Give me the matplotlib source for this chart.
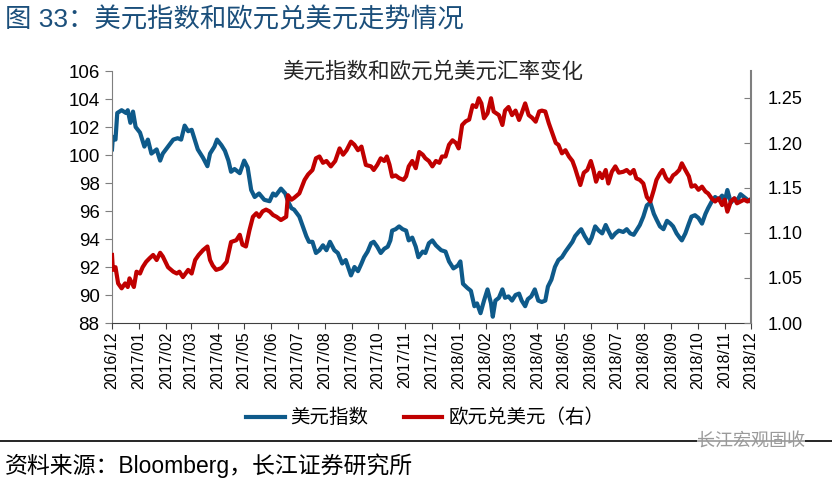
import numpy as np
import matplotlib
matplotlib.use('Agg')
import matplotlib.pyplot as plt
import matplotlib.dates as mdates
from matplotlib.lines import Line2D
from matplotlib.ticker import FormatStrFormatter

plt.rcParams['font.family'] = ['Liberation Sans', 'Noto Sans CJK SC']

# data: day offsets from 2016-12-01 and values
START = np.datetime64('2016-12-01')
END = np.datetime64('2018-12-01')

usd_days = [0, 1, 4, 6, 11, 16, 18, 21, 24, 27, 32, 37, 41, 45, 51, 55, 58, 64, 70, 75,
            79, 83, 87, 91, 94, 98, 104, 109, 112, 117, 120, 125, 129, 133, 136, 140,
            146, 151, 155, 159, 163, 168, 174, 180, 184, 187, 193, 198, 201, 205, 208, 214,
            218, 222, 225, 229, 233, 237, 241, 245, 249, 254, 258, 263, 267, 273, 277, 281,
            285, 288,
            292, 296, 299, 303, 307, 311, 315, 318, 320, 324, 328, 332, 336, 339, 343, 347,
            350, 355, 358, 362, 366, 370, 376, 381, 385, 390, 395, 398, 401, 406, 410, 414,
            417, 421, 425, 429, 433, 435,
            438, 442, 446, 449, 453, 457, 461, 465, 468, 472, 475, 479, 483, 487, 491, 495,
            498, 502, 506, 510, 514, 518, 522, 526, 529, 533, 536, 540, 545, 548, 552, 556,
            560, 564, 567, 571, 575, 579,
            584, 588, 592, 596, 599, 603, 607, 611, 615, 619, 622, 626, 630, 634, 638, 641,
            645, 649, 651, 655, 659, 662, 666, 670, 674, 678, 681, 685, 689, 693, 697, 700,
            703, 707, 711, 714, 718, 722, 726, 729]
usd_vals = [100.4, 101.3, 101.1, 103.0, 103.2, 103.0, 103.2, 102.3, 103.1, 102.0,
            101.6, 100.6, 101.1, 100.1, 100.4, 99.6, 100.1, 100.6, 101.1, 101.2,
            101.1, 102.1, 101.7, 101.8, 101.2, 100.4, 99.8, 99.2, 100.1, 100.6,
            101.1, 100.7, 100.3, 99.6, 98.8, 99.0,
            98.7, 99.6, 99.1, 97.5, 97.0, 97.25, 96.8, 96.7, 97.25, 97.1,
            97.6, 97.25, 96.7, 96.2, 96.1, 95.6, 94.9, 94.2, 93.8, 93.8,
            93.0, 93.2, 93.55, 93.2, 93.8, 93.2, 93.0, 92.25, 92.5, 91.4,
            92.0, 91.7, 92.25, 92.7,
            93.1, 93.7, 93.8, 93.45, 93.0, 93.3, 93.45, 93.9, 94.6, 94.7,
            94.9, 94.7, 94.6, 93.9, 94.1, 93.45, 92.7, 93.1, 93.0, 93.7,
            93.9, 93.55, 93.2, 93.1, 92.4, 91.9, 92.1, 92.4, 90.8, 90.5,
            90.3, 89.2, 89.4, 88.7, 89.6, 90.4, 89.4, 88.45,
            89.6, 89.8, 90.4, 89.8, 89.9, 89.6, 90.0, 90.1, 89.6, 89.2,
            89.7, 89.9, 90.4, 89.6, 89.5, 89.6, 90.6, 91.1, 92.0, 92.5,
            92.7, 93.1, 93.45, 93.8, 94.2, 94.5, 94.7, 94.2, 93.7, 94.1,
            94.9, 94.6, 94.4, 95.0, 94.6, 94.1, 94.4, 94.6,
            94.5, 94.7, 94.4, 94.3, 94.6, 95.0, 95.6, 96.4, 96.6, 95.8,
            95.4, 94.9, 94.7, 95.3, 95.1, 94.9, 94.4, 94.05, 93.9, 94.4,
            95.1, 95.6, 95.7, 95.5, 95.1, 95.8, 96.2, 96.66, 97.0, 96.8,
            97.1, 96.7, 97.5, 96.6, 96.9, 96.7, 97.2, 97.0, 96.8, 96.7]

eur_days = [0, 1, 4, 7, 11, 15, 18, 20, 23, 25, 28, 32, 35, 39, 43, 47, 51, 55, 58, 64,
            70, 74, 77, 81, 87, 91, 95, 99, 104, 109, 112, 115, 119, 125, 131, 136, 142,
            146, 149, 153, 157, 161, 165, 168, 172, 176, 180, 184, 188, 193, 199, 201, 205,
            208, 214, 220, 224, 229, 233, 237, 241, 245, 250, 255, 260, 264, 268, 273, 277,
            281, 285, 290,
            296, 299, 303, 307, 311, 314, 317, 320, 324, 328, 333, 336, 339, 343, 347, 351,
            355, 358, 362, 366, 370, 374, 377, 381, 385, 389, 393, 396, 400, 404, 408, 412,
            416, 419, 422, 425, 429, 433, 436,
            442, 446, 449, 453, 457, 461, 465, 468, 472, 476, 480, 484, 488, 491, 495, 499,
            503, 507, 510, 514, 518, 522, 526, 529, 532, 535, 539, 543, 547, 550, 553, 557,
            560, 564, 567, 571, 575, 579,
            584, 588, 592, 596, 599, 603, 607, 611, 615, 619, 622, 626, 629, 633, 637, 641,
            644, 648, 651, 655, 659, 662, 666, 670, 674, 678, 681, 685, 689, 693, 697, 700,
            703, 707, 711, 714, 718, 722, 726, 729]
eur_vals = [1.0756, 1.059, 1.062, 1.044, 1.0385, 1.044, 1.040, 1.0496, 1.044, 1.040,
            1.057, 1.055, 1.062, 1.068, 1.072, 1.0756, 1.070, 1.078, 1.074, 1.062,
            1.057, 1.055, 1.057, 1.051, 1.059, 1.055, 1.070, 1.0756, 1.081, 1.085,
            1.070, 1.064, 1.059, 1.061, 1.068, 1.090, 1.092,
            1.098, 1.087, 1.085, 1.103, 1.118, 1.122, 1.118, 1.124, 1.126, 1.124,
            1.120, 1.118, 1.1144, 1.118, 1.142, 1.137, 1.139, 1.144, 1.159, 1.165,
            1.170, 1.183, 1.185, 1.178, 1.180, 1.174, 1.180, 1.194, 1.187, 1.192,
            1.2015, 1.198, 1.192, 1.196, 1.1756,
            1.174, 1.170, 1.1756, 1.183, 1.180, 1.185, 1.176, 1.1626, 1.164, 1.161,
            1.159, 1.163, 1.174, 1.180, 1.172, 1.190, 1.187, 1.183, 1.180, 1.174,
            1.180, 1.178, 1.185, 1.185, 1.198, 1.203, 1.200, 1.194, 1.220, 1.224,
            1.226, 1.242, 1.240, 1.2497, 1.244, 1.2275, 1.233, 1.2497, 1.235,
            1.231, 1.220, 1.236, 1.240, 1.231, 1.236, 1.2256, 1.233, 1.244, 1.231,
            1.228, 1.2237, 1.235, 1.236, 1.235, 1.222, 1.211, 1.200, 1.198, 1.1885,
            1.192, 1.185, 1.180, 1.172, 1.1626, 1.1533, 1.167, 1.170, 1.180, 1.170,
            1.157, 1.167, 1.161, 1.170, 1.155, 1.168, 1.174, 1.167,
            1.168, 1.170, 1.166, 1.170, 1.1607, 1.159, 1.155, 1.140, 1.135, 1.148,
            1.159, 1.166, 1.170, 1.161, 1.157, 1.164, 1.166, 1.170, 1.1774, 1.170,
            1.163, 1.1515, 1.153, 1.148, 1.1515, 1.146, 1.144, 1.1385, 1.135, 1.1385,
            1.131, 1.137, 1.1237, 1.135, 1.1385, 1.133, 1.135, 1.137, 1.135, 1.137]

BLUE = '#0E5A8A'
RED = '#C00000'
GREY = '#7F7F7F'

usd_dates = START + np.array(usd_days).astype('timedelta64[D]')
eur_dates = START + np.array(eur_days).astype('timedelta64[D]')

fig = plt.figure(figsize=(8.32, 4.82), dpi=100)
ax = fig.add_axes([112 / 832, 1 - 323 / 482, 639 / 832, 252 / 482])
ax2 = ax.twinx()

l1, = ax.plot(usd_dates, usd_vals, color=BLUE, lw=3.0)
l2, = ax2.plot(eur_dates, eur_vals, color=RED, lw=3.0)

ax.set_ylim(88, 106)
ax.set_yticks(range(88, 107, 2))
ax2.set_ylim(1.0, 1.28)
ax2.set_yticks([1.00, 1.05, 1.10, 1.15, 1.20, 1.25])
ax2.yaxis.set_major_formatter(FormatStrFormatter('%.2f'))

ax.set_xlim(START, END)
ax.xaxis.set_major_locator(mdates.MonthLocator())
ax.xaxis.set_major_formatter(mdates.DateFormatter('%Y/%m'))
for lab in ax.get_xticklabels():
    lab.set_rotation(90)

for a in (ax, ax2):
    a.spines['top'].set_visible(False)
ax.spines['right'].set_visible(False)
ax2.spines['left'].set_visible(False)
ax2.spines['bottom'].set_visible(False)
ax.spines['left'].set_color(GREY)
ax.spines['bottom'].set_color('#404040')
ax2.spines['right'].set_color(GREY)
ax2.spines['right'].set_linewidth(1.5)

ax.tick_params(axis='y', direction='out', length=5, color=GREY, labelsize=13.5, pad=4)
ax.tick_params(axis='x', direction='out', length=4, color='#404040', labelsize=11.5, pad=2)
ax2.tick_params(axis='y', direction='in', length=5, color=GREY, labelsize=13, pad=12)

ax.set_facecolor('none')

# texts
fig.text(433 / 832, 1 - 72 / 482, '美元指数和欧元兑美元汇率变化', fontsize=15.5,
         ha='center', va='center', color='#262626')
fig.text(5 / 832, 1 - 20 / 482, '图 33：美元指数和欧元兑美元走势情况', fontsize=19,
         ha='left', va='center', color='#1B4F7B')
fig.text(5 / 832, 1 - 466 / 482, '资料来源：Bloomberg，长江证券研究所', fontsize=16.5,
         ha='left', va='center', color='black')

fig.legend([l1, l2], ['美元指数', '欧元兑美元（右）'], loc='center',
           bbox_to_anchor=(425 / 832, 1 - 418 / 482), ncol=2, frameon=False,
           fontsize=14, handlelength=2.0, handletextpad=0.3, columnspacing=1.8)

fig.add_artist(Line2D([0, 1], [1 - 441 / 482, 1 - 441 / 482], color='black', lw=1.2,
                      transform=fig.transFigure))
fig.text(697 / 832, 1 - 441 / 482, '长江宏观固收', fontsize=13, ha='left', va='center',
         color='#9a9a9a',
         bbox=dict(facecolor='white', edgecolor='none', alpha=0.6, pad=0))

fig.savefig('out.png', dpi=100)
